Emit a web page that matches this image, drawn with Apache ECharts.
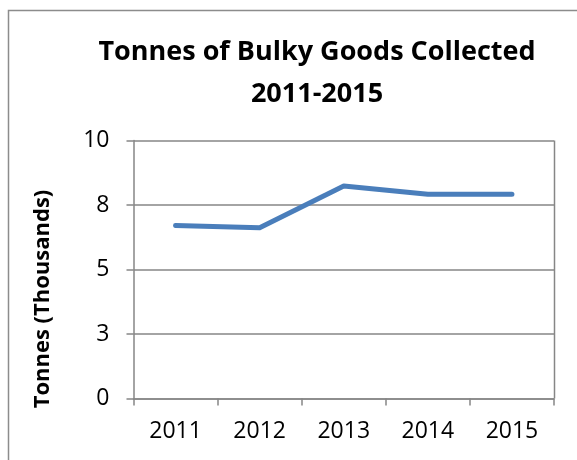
<!DOCTYPE html>
<html>
<head>
<meta charset="utf-8">
<script src="https://cdn.jsdelivr.net/npm/echarts@6/dist/echarts.min.js"></script>
<style>
    html, body { margin: 0; padding: 0; background: #fff; }
    #chart { width: 577px; height: 460px; }
</style>
</head>
<body>
<div id="chart"></div>
<script>
// chart data
var years = ['2011', '2012', '2013', '2014', '2015'];
var tonnes = [6.71, 6.62, 8.24, 7.92, 7.92];
var yTicks = [0, 2.5, 5, 7.5, 10];

var font = '"Open Sans", "Liberation Sans", sans-serif';
var grey = '#868686';

var myChart = echarts.init(document.getElementById('chart'));
var option = {
    backgroundColor: '#fff',
    animation: false,
    title: {
        text: 'Tonnes of Bulky Goods Collected\n2011-2015',
        left: 312,
        textAlign: 'center',
        top: 26,
        textStyle: {
            fontFamily: font,
            fontSize: 27,
            fontWeight: 'bold',
            color: '#000',
            lineHeight: 42
        }
    },
    grid: {
        left: 133.5,
        right: 23,
        top: 140.5,
        bottom: 61.5
    },
    graphic: [
        {
            type: 'rect',
            shape: { x: 8.5, y: 10.5, width: 600, height: 500 },
            style: { fill: 'none', stroke: '#8c8c8c', lineWidth: 1.5 },
            silent: true
        },
        {
            type: 'text',
            x: 43,
            y: 299,
            rotation: Math.PI / 2,
            style: {
                text: 'Tonnes (Thousands)',
                fontFamily: font,
                fontSize: 22,
                fontWeight: 'bold',
                fill: '#000',
                align: 'center',
                verticalAlign: 'middle'
            }
        },
        {
            type: 'line',
            shape: { x1: 554.5, y1: 140.5, x2: 554.5, y2: 398.5 },
            style: { stroke: grey, lineWidth: 1.5 }
        }
    ],
    xAxis: {
        type: 'category',
        data: years,
        boundaryGap: true,
        axisLine: { lineStyle: { color: grey, width: 1.5 } },
        axisTick: { show: true, length: 7, lineStyle: { color: grey, width: 1.5 } },
        axisLabel: {
            color: '#000',
            fontFamily: font,
            fontSize: 23,
            margin: 21
        }
    },
    yAxis: {
        type: 'value',
        min: yTicks[0],
        max: yTicks[yTicks.length - 1],
        interval: yTicks[1] - yTicks[0],
        axisLine: { show: true, lineStyle: { color: grey, width: 1.5 } },
        axisTick: { show: true, length: 7, lineStyle: { color: grey, width: 1.5 } },
        splitLine: { show: true, lineStyle: { color: grey, width: 1.5 } },
        axisLabel: {
            color: '#000',
            fontFamily: font,
            fontSize: 23,
            margin: 24,
            formatter: function (v) { return String(Math.round(v)); }
        }
    },
    series: [
        {
            name: 'Tonnes',
            type: 'line',
            data: tonnes,
            symbol: 'none',
            lineStyle: { color: '#4a7ebb', width: 5, cap: 'round', join: 'round' }
        }
    ]
};
myChart.setOption(option, true);
</script>
</body>
</html>
